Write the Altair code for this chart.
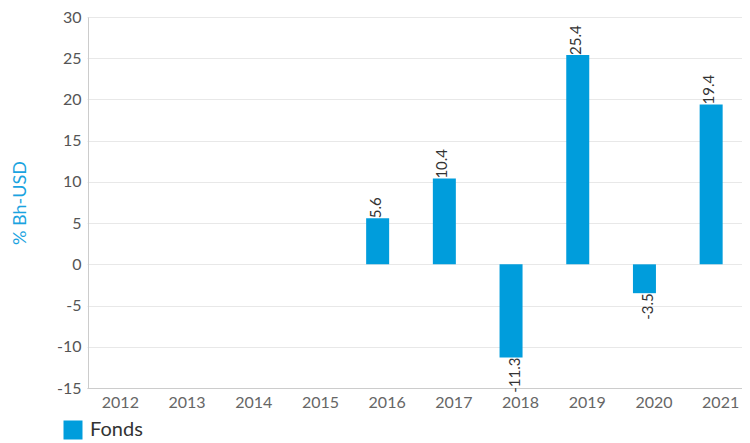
import altair as alt
import pandas as pd

years = ["2012", "2013", "2014", "2015", "2016", "2017", "2018", "2019", "2020", "2021"]
bar_years = ["2016", "2017", "2018", "2019", "2020", "2021"]
fonds = [5.6, 10.4, -11.3, 25.4, -3.5, 19.4]
series_name = "Fonds"
y_ticks = [-15, -10, -5, 0, 5, 10, 15, 20, 25, 30]

BLUE = "#009ddc"
FONT = "Lato"

df = pd.DataFrame({"year": bar_years, "value": fonds, "series": [series_name] * len(fonds)})

x_enc = alt.X(
    "year:N",
    scale=alt.Scale(domain=years, range=[-1, 666]),
    axis=alt.Axis(
        title=None, labelAngle=0, ticks=False, domain=True, domainColor="#cccccc",
        grid=False, labelFont=FONT, labelFontSize=16, labelColor="#666666", labelPadding=6,
    ),
)
y_enc = alt.Y(
    "value:Q",
    scale=alt.Scale(domain=[-15, 30], nice=False),
    axis=alt.Axis(
        title="% Bh-USD", values=y_ticks, ticks=False, domain=True, domainColor="#cccccc",
        gridColor="#e8e8e8", labelFont=FONT, labelFontSize=16, labelColor="#555555",
        labelExpr="'' + datum.value",
        labelPadding=7, titleFont=FONT, titleFontSize=18, titleFontWeight="normal",
        titleColor="#1aa3e0", titlePadding=27,
    ),
)

base = alt.Chart(df).transform_calculate(label="'' + datum.value")

bars = base.mark_bar(width=23, xOffset=-9.5).encode(
    x=x_enc,
    y=y_enc,
    color=alt.Color(
        "series:N",
        scale=alt.Scale(domain=[series_name], range=[BLUE]),
        legend=alt.Legend(
            title=None, orient="none", legendX=-25, legendY=403, symbolType="square",
            symbolSize=361, symbolStrokeWidth=0, symbolOpacity=1, labelFont=FONT,
            labelFontSize=20, labelColor="#333333", labelOffset=7,
        ),
    ),
)

pos_labels = base.transform_filter("datum.value >= 0").mark_text(
    angle=270, align="left", baseline="middle", dy=-2, xOffset=-9.5,
    font=FONT, fontSize=15, color="#333333",
).encode(x=x_enc, y=y_enc, text="label:N")

neg_labels = base.transform_filter("datum.value < 0").mark_text(
    angle=270, align="right", baseline="middle", dy=4, xOffset=-9.5,
    font=FONT, fontSize=15, color="#333333",
).encode(x=x_enc, y=y_enc, text="label:N")

chart = (
    alt.layer(bars, pos_labels, neg_labels)
    .properties(
        width=654, height=371,
        autosize=alt.AutoSizeParams(type="none"),
        padding={"left": 80, "top": 9, "right": 0, "bottom": 55},
    )
    .configure_view(stroke=None)
)

chart.save("out.html", embed_options={"renderer": "svg", "actions": False})
